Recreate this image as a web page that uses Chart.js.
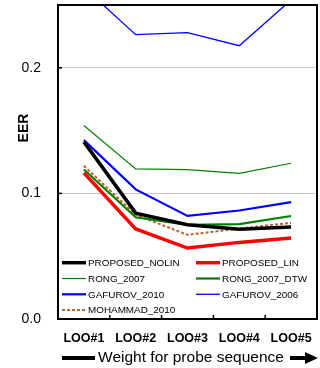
<!DOCTYPE html>
<html><head><meta charset="utf-8">
<script src="https://cdn.jsdelivr.net/npm/chart.js@4/dist/chart.umd.min.js"></script>
<style>html,body{margin:0;padding:0;background:#fff}canvas{display:block}</style>
</head><body>
<canvas id="c" width="320" height="368"></canvas>
<script>
const categories = ["LOO#1","LOO#2","LOO#3","LOO#4","LOO#5"];
const proposedNolin = [0.141, 0.0843, 0.075, 0.0715, 0.0733];
const proposedLin   = [0.1163, 0.0717, 0.0565, 0.061, 0.0645];
const rong2007      = [0.154, 0.1195, 0.119, 0.116, 0.124];
const rong2007Dtw   = [0.119, 0.081, 0.075, 0.0755, 0.082];
const gafurov2010   = [0.1424, 0.1032, 0.0821, 0.0864, 0.093];
const gafurov2006   = [0.264, 0.2264, 0.228, 0.2176, 0.254];
const mohammad2010  = [0.122, 0.083, 0.067, 0.072, 0.0766];
const yTicks = [0, 0.1, 0.2];
const yTitle = "EER";
const xTitle = "Weight for probe sequence";

const FONT = "'Liberation Sans', Arial, sans-serif";

function ds(label, data, color, width, dash) {
  return {label, data, borderColor: color, backgroundColor: color, borderWidth: width,
    borderDash: dash || [], pointRadius: 0, tension: 0, fill: false};
}

const extras = {
  id: 'extras',
  afterDraw(chart) {
    const ctx = chart.ctx, a = chart.chartArea;
    const x = chart.scales.x, y = chart.scales.y;
    ctx.save();
    ctx.strokeStyle = '#000'; ctx.lineWidth = 1.5;
    yTicks.forEach(v => {
      if (v === 0) return;
      const py = y.getPixelForValue(v);
      ctx.beginPath(); ctx.moveTo(a.left, py); ctx.lineTo(a.left + 4, py); ctx.stroke();
    });
    for (let i = 0; i < categories.length - 1; i++) {
      const px = (x.getPixelForTick(i) + x.getPixelForTick(i + 1)) / 2;
      ctx.beginPath(); ctx.moveTo(px, a.bottom); ctx.lineTo(px, a.bottom - 4); ctx.stroke();
    }
    ctx.lineWidth = 2;
    ctx.strokeRect(a.left, a.top, a.right - a.left, a.bottom - a.top);
    const rows = [262.7, 278.5, 294.3, 310];
    ctx.font = '9.9px ' + FONT;
    ctx.textBaseline = 'middle'; ctx.textAlign = 'left';
    chart.data.datasets.forEach((d, i) => {
      const col = i % 2, row = Math.floor(i / 2);
      const x0 = col ? 196 : 62, yy = rows[row];
      ctx.strokeStyle = d.borderColor;
      ctx.lineWidth = Math.min(d.borderWidth, 3.5);
      ctx.setLineDash(d.borderDash || []);
      ctx.beginPath(); ctx.moveTo(x0, yy); ctx.lineTo(x0 + 24, yy); ctx.stroke();
      ctx.setLineDash([]);
      ctx.fillStyle = '#000';
      ctx.fillText(d.label, x0 + 26, yy + 0.5);
    });
    ctx.save();
    ctx.translate(23, 128);
    ctx.rotate(-Math.PI / 2);
    ctx.font = 'bold 14px ' + FONT;
    ctx.textAlign = 'center'; ctx.textBaseline = 'middle';
    ctx.fillStyle = '#000';
    ctx.fillText(yTitle, 0, 1);
    ctx.restore();
    ctx.font = '15.5px ' + FONT;
    ctx.textAlign = 'center'; ctx.textBaseline = 'middle';
    ctx.fillStyle = '#000';
    ctx.fillText(xTitle, 191, 358);
    ctx.fillRect(62, 356, 33, 4);
    ctx.fillRect(290, 356, 16, 4);
    ctx.beginPath(); ctx.moveTo(305, 352); ctx.lineTo(318, 358); ctx.lineTo(305, 364); ctx.closePath(); ctx.fill();
    ctx.restore();
  }
};

new Chart(document.getElementById('c'), {
  type: 'line',
  data: {
    labels: categories,
    datasets: [
      ds('PROPOSED_NOLIN', proposedNolin, '#000000', 3.5),
      ds('PROPOSED_LIN', proposedLin, '#ff0000', 3.5),
      ds('RONG_2007', rong2007, '#008000', 1.2),
      ds('RONG_2007_DTW', rong2007Dtw, '#008000', 2.2),
      ds('GAFUROV_2010', gafurov2010, '#0000ff', 2.2),
      ds('GAFUROV_2006', gafurov2006, '#0000ff', 1.3),
      ds('MOHAMMAD_2010', mohammad2010, '#b8652a', 2, [3, 2])
    ]
  },
  options: {
    responsive: false,
    animation: false,
    layout: {padding: {top: 5, right: 3, left: 0, bottom: 0}, autoPadding: false},
    plugins: {legend: {display: false}, tooltip: {enabled: false}},
    scales: {
      x: {
        type: 'category', offset: true,
        grid: {display: false, drawTicks: false},
        border: {display: false},
        afterFit(s) { s.height = 49; s.paddingLeft = 0; s.paddingRight = 0; s.paddingTop = 0; s.paddingBottom = 0; },
        ticks: {color: '#000', font: {family: FONT, size: 12.5, weight: 'bold'}, padding: 12, maxRotation: 0}
      },
      y: {
        min: 0, max: 0.25,
        afterFit(s) { s.width = 58; s.paddingTop = 0; s.paddingBottom = 0; s.paddingLeft = 0; s.paddingRight = 0; },
        afterBuildTicks(s) { s.ticks = yTicks.map(v => ({value: v})); },
        grid: {drawTicks: false, color: c => (c.tick && c.tick.value === 0) ? 'rgba(0,0,0,0)' : '#c8c8c8', lineWidth: 1},
        border: {display: false},
        ticks: {color: '#000', font: {family: FONT, size: 14}, padding: 17, callback: v => Number(v).toFixed(1)}
      }
    }
  },
  plugins: [extras]
});
</script>
</body></html>
